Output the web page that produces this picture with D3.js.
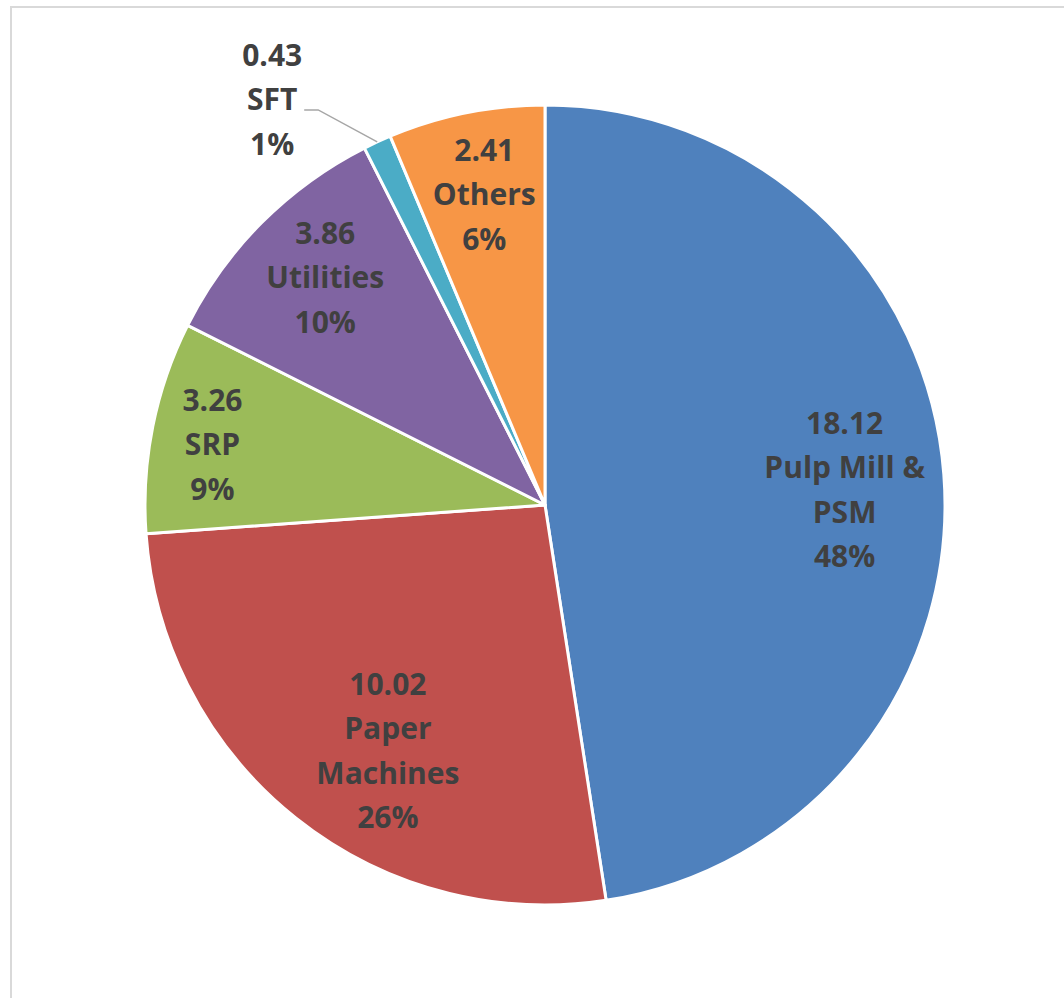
<!DOCTYPE html>
<html>
<head>
<meta charset="utf-8">
<script src="https://cdn.jsdelivr.net/npm/d3@7"></script>
<style>
  html, body { margin: 0; padding: 0; background: #fff; }
  svg { display: block; }
</style>
</head>
<body>
<svg id="chart" width="1064" height="998"></svg>
<script>
// Cost breakdown by area
const categories = ["Pulp Mill & PSM", "Paper Machines", "SRP", "Utilities", "SFT", "Others"];
const values = [18.12, 10.02, 3.26, 3.86, 0.43, 2.41];
const percentLabels = ["48%", "26%", "9%", "10%", "1%", "6%"];
const colors = ["#4F81BD", "#C0504D", "#9BBB59", "#8064A2", "#4BACC6", "#F79646"];

// label text lines per slice (category name wrapped as in the data labels)
const nameLines = [["Pulp Mill &", "PSM"], ["Paper", "Machines"], ["SRP"], ["Utilities"], ["SFT"], ["Others"]];

const width = 1064, height = 998;
const cx = 545, cy = 505, R = 400;
const lineH = 44.5;

const svg = d3.select("#chart");

// chart area frame
svg.append("rect")
  .attr("x", 11).attr("y", 7)
  .attr("width", width + 20).attr("height", height + 20)
  .attr("fill", "#fff")
  .attr("stroke", "#d9d9d9").attr("stroke-width", 2);

const data = categories.map((c, i) => ({ name: c, value: values[i], i }));

const pie = d3.pie().value(d => d.value).sort(null);
const arcs = pie(data);

const arc = d3.arc().innerRadius(0).outerRadius(R);

const g = svg.append("g").attr("transform", `translate(${cx},${cy})`);

g.selectAll("path.slice")
  .data(arcs)
  .enter().append("path")
  .attr("class", "slice")
  .attr("d", arc)
  .attr("fill", d => colors[d.data.i])
  .attr("stroke", "#fff")
  .attr("stroke-width", 3)
  .attr("stroke-linejoin", "round");

// label placement: radius along the mid angle, with small nudges
const labelRadius = [300, 292, 338, 316, 0, 316];
const angleShift = [1.5, -6, -1, 1, 0, 0.3]; // degrees
const outsideIdx = 4;

function midAngle(d) { return (d.startAngle + d.endAngle) / 2; }

const labelG = g.append("g")
  .attr("font-family", "'Open Sans', Lato, sans-serif")
  .attr("font-weight", "bold")
  .attr("font-size", 30)
  .attr("fill", "#404040")
  .attr("text-anchor", "middle");

arcs.forEach(d => {
  const i = d.data.i;
  const lines = [d3.format(".2f")(d.data.value), ...nameLines[i], percentLabels[i]];
  let x, y;
  const a = midAngle(d);
  if (i === outsideIdx) {
    // outside label with leader line to the slice edge
    const ex = R * Math.sin(a), ey = -R * Math.cos(a);
    x = ex - 105; y = ey - 42;
    const lx0 = x + 32, ly = y + 10;
    g.append("polyline")
      .attr("points", `${lx0},${ly} ${lx0 + 14},${ly} ${ex},${ey}`)
      .attr("fill", "none")
      .attr("stroke", "#a6a6a6")
      .attr("stroke-width", 1.5);
  } else {
    const aa = a + angleShift[i] * Math.PI / 180;
    x = labelRadius[i] * Math.sin(aa);
    y = -labelRadius[i] * Math.cos(aa);
  }
  const n = lines.length;
  const t = labelG.append("text").attr("x", x).attr("y", y);
  lines.forEach((ln, k) => {
    t.append("tspan")
      .attr("x", x)
      .attr("y", y + (k - (n - 1) / 2) * lineH)
      .attr("dy", "0.35em")
      .text(ln);
  });
});
</script>
</body>
</html>
